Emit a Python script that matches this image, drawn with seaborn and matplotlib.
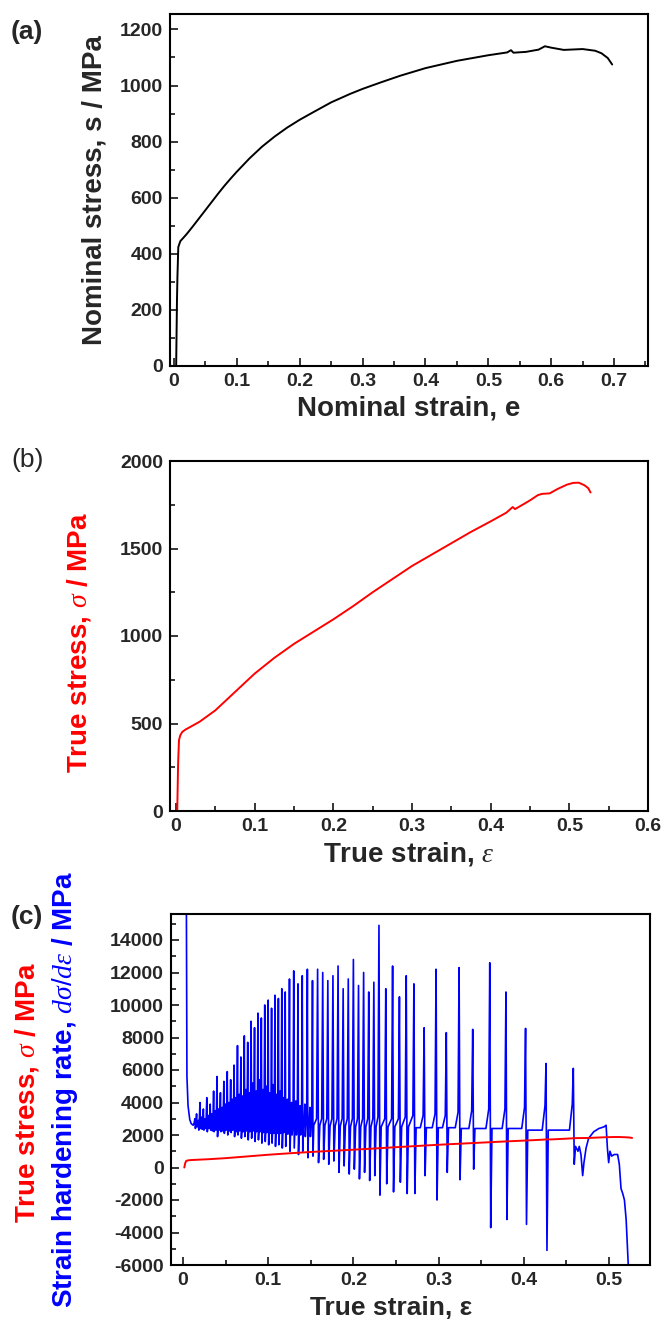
import numpy as np
import pandas as pd
import matplotlib
matplotlib.use("Agg")
import matplotlib.pyplot as plt
import seaborn as sns
from matplotlib.ticker import MultipleLocator, FuncFormatter

# ---------------- data ----------------
# (a) nominal stress-strain
nominal_strain = [0.0034, 0.0047, 0.0054, 0.0068, 0.010, 0.020, 0.030, 0.040, 0.050, 0.060,
                  0.070, 0.080, 0.090, 0.100, 0.120, 0.140, 0.160, 0.180, 0.200, 0.220,
                  0.250, 0.280, 0.300, 0.330, 0.360, 0.400, 0.450, 0.500, 0.530, 0.536,
                  0.540, 0.560, 0.580, 0.590, 0.600, 0.620, 0.650, 0.670, 0.680, 0.690,
                  0.697]
nominal_stress = [0, 234, 317, 424, 445, 470, 498, 527, 556, 585,
                  614, 642, 668, 693, 740, 782, 818, 850, 878, 903,
                  940, 970, 988, 1012, 1035, 1062, 1088, 1108, 1118, 1126,
                  1117, 1120, 1128, 1140, 1135, 1127, 1130, 1124, 1115, 1098,
                  1075]

# (b)/(c) true stress-strain
true_strain = [0.0016, 0.0027, 0.0038, 0.0054, 0.008, 0.012, 0.020, 0.030, 0.050, 0.075,
               0.100, 0.125, 0.150, 0.175, 0.200, 0.225, 0.250, 0.275, 0.300, 0.325,
               0.350, 0.375, 0.400, 0.420, 0.428, 0.431, 0.450, 0.460, 0.465, 0.475,
               0.485, 0.497, 0.505, 0.512, 0.519, 0.524, 0.527]
true_stress = [0, 270, 404, 432, 452, 465, 485, 510, 575, 680,
               785, 875, 955, 1025, 1095, 1170, 1250, 1325, 1400, 1465,
               1530, 1595, 1655, 1705, 1737, 1725, 1775, 1805, 1812, 1815,
               1840, 1865, 1875, 1876, 1862, 1845, 1820]

# (c) strain hardening rate: initial drop, serration spikes, final segment
hr_head_strain = [0.0040, 0.0044, 0.0047, 0.0060, 0.0080, 0.0097, 0.0120]
hr_head_rate = [17000, 10000, 5600, 3800, 2950, 2700, 2600]

spike_strain = [0.014, 0.016, 0.018, 0.020, 0.022, 0.024, 0.026, 0.028, 0.030, 0.032,
                0.034, 0.036, 0.038, 0.040, 0.042, 0.044, 0.046, 0.048, 0.050, 0.052,
                0.054, 0.056, 0.058, 0.060, 0.062, 0.064, 0.066, 0.068, 0.070, 0.072,
                0.074, 0.076, 0.078, 0.080, 0.082, 0.084, 0.086, 0.088, 0.090, 0.092,
                0.094, 0.096, 0.098, 0.100, 0.102, 0.104, 0.106, 0.108, 0.110, 0.112,
                0.114, 0.116, 0.118, 0.120, 0.1225, 0.125, 0.1275, 0.130, 0.1325, 0.135,
                0.1375, 0.140, 0.143, 0.146, 0.149, 0.152,
                0.158, 0.164, 0.170, 0.176, 0.182, 0.188, 0.194, 0.200, 0.206, 0.212,
                0.218, 0.224, 0.230, 0.238, 0.246, 0.254, 0.262, 0.271, 0.283, 0.297,
                0.309, 0.324, 0.340, 0.360, 0.379, 0.402, 0.426, 0.458]
spike_peak = [3000, 3300, 2900, 4000, 3100, 3600, 3000, 4300, 3200, 3900,
              3300, 4700, 3500, 5600, 3600, 4600, 3700, 5300, 3900, 5900,
              4000, 5400, 4200, 6300, 4300, 7500, 4500, 6800, 4400, 8100,
              4800, 7700, 4600, 9000, 5200, 8600, 4700, 9500, 5400, 9200,
              4800, 10000, 5000, 10300, 4600, 9800, 5100, 10600, 4500, 10400,
              4700, 11000, 4300, 10800, 4200, 11600, 4000, 12100, 4100, 11300,
              3800, 11800, 3900, 12200, 3700, 11500,
              12200, 12000, 11500, 11800, 12400, 11000, 11600, 12800, 11200, 12000,
              10800, 11400, 14900, 11000, 12400, 10500, 11800, 11300, 8600, 12200,
              8300, 12300, 8500, 12600, 10800, 8560, 6400, 6100]
spike_trough = [2400, 2500, 2300, 2400, 2350, 2300, 2400, 2200, 2400, 2300,
                2250, 2200, 2300, 1900, 2300, 2200, 2250, 2100, 2300, 2000,
                2250, 2150, 2300, 1900, 2200, 2000, 2250, 1800, 2200, 1900,
                2250, 1700, 2200, 1800, 2250, 1600, 2200, 1700, 2200, 1500,
                2150, 1600, 2150, 1400, 2100, 1500, 2100, 1300, 2100, 1400,
                2100, 1200, 2150, 1300, 2050, 1000, 2000, 1200, 2000, 800,
                2000, 1000, 1900, 600, 1900, 700,
                300, 500, 200, 400, -300, 100, -400, -100, -700, -300,
                -800, -500, -1700, -1000, -1500, -900, -1600, -1600, -500, -2000,
                -300, -750, -100, -3700, -3200, -3500, -5100, 200]
# level reached right after the drop recovers
spike_base = [2700, 2700, 2650, 2700, 2700, 2650, 2700, 2700, 2650, 2700,
              2650, 2700, 2650, 2700, 2650, 2700, 2650, 2700, 2650, 2700,
              2650, 2700, 2650, 2700, 2650, 2700, 2650, 2700, 2650, 2700,
              2650, 2700, 2650, 2700, 2650, 2700, 2650, 2700, 2650, 2700,
              2650, 2700, 2650, 2700, 2650, 2700, 2650, 2700, 2650, 2700,
              2650, 2700, 2650, 2700, 2650, 2650, 2650, 2650, 2650, 2650,
              2650, 2650, 2600, 2600, 2600, 2600,
              2600, 2600, 2550, 2550, 2550, 2550, 2500, 2500, 2500, 2500,
              2500, 2500, 2500, 2500, 2500, 2500, 2500, 2450, 2450, 2450,
              2450, 2400, 2400, 2400, 2400, 2300, 2300, 1300]
# level just before the sharp rise
spike_pre = [2750, 2750, 2700, 2800, 2750, 2800, 2750, 2900, 2750, 2850,
             2800, 2900, 2800, 3000, 2800, 2900, 2800, 3000, 2850, 3000,
             2800, 3000, 2850, 3000, 2800, 3100, 2850, 3000, 2800, 3100,
             2850, 3000, 2800, 3100, 2850, 3000, 2800, 3100, 2850, 3000,
             2800, 3100, 2850, 3100, 2800, 3000, 2850, 3100, 2800, 3000,
             2800, 3100, 2800, 3000, 2800, 3000, 2800, 3000, 2800, 3000,
             2800, 3000, 2800, 3000, 2800, 3000,
             3000, 3000, 3000, 3000, 3000, 3000, 3000, 3000, 3000, 3000,
             3000, 3000, 3100, 3000, 3000, 3000, 3100, 3200, 3200, 3300,
             3200, 3400, 3500, 3600, 3600, 3700, 3800, 3900]

hr_tail_strain = [0.4635, 0.4650, 0.4670, 0.4690, 0.4705, 0.4730, 0.4760, 0.4820, 0.4880,
                  0.4940, 0.4965, 0.4980, 0.4995, 0.5010, 0.5030, 0.5060, 0.5100, 0.5120,
                  0.5140, 0.5160, 0.5180, 0.5200, 0.5225, 0.5240]
hr_tail_rate = [1000, 1300, 800, -500, 300, 1200, 1800, 2200, 2400,
                2500, 2600, 1200, 300, 1000, 700, 800, 800, 200,
                -1300, -1600, -2000, -3200, -6000, -7000]

# build the hardening-rate polyline from the read-off values
hr_x = list(hr_head_strain)
hr_y = list(hr_head_rate)
prev_end = hr_x[-1]
prev_base = hr_y[-1]
for i, (xs, pk, tr, bs, pr) in enumerate(zip(spike_strain, spike_peak, spike_trough,
                                              spike_base, spike_pre)):
    wide = (i > 0 and xs - spike_strain[i - 1] > 0.0045)
    w1, w2, w3 = (0.0012, 0.0011, 0.0026) if wide else (0.0008, 0.0006, 0.0015)
    if xs - 0.0045 > prev_end + 0.002:
        # flat stretch before the ramp toward the next serration
        hr_x += [xs - 0.0045]
        hr_y += [prev_base]
    hr_x += [xs - w1, xs, xs + w2, xs + w3]
    hr_y += [pr, pk, tr, bs]
    prev_end = xs + w3
    prev_base = bs
hr_x += hr_tail_strain
hr_y += hr_tail_rate

df_a = pd.DataFrame({"strain": nominal_strain, "stress": nominal_stress})
df_b = pd.DataFrame({"strain": true_strain, "stress": true_stress})
df_hr = pd.DataFrame({"strain": hr_x, "rate": hr_y})

# ---------------- style ----------------
sns.set_theme(style="ticks")
plt.rcParams['font.family'] = ['Liberation Sans', 'DejaVu Sans']
plt.rcParams['mathtext.fontset'] = 'custom'
plt.rcParams['mathtext.it'] = 'Liberation Serif:italic'
plt.rcParams['mathtext.rm'] = 'Liberation Sans'
plt.rcParams['axes.linewidth'] = 1.5
plt.rcParams['axes.unicode_minus'] = False

TICKSIZE = 14
LABELSIZE = 20
RED = '#ff0000'
BLUE = '#0000ff'
W, H = 664.0, 1322.0

fig = plt.figure(figsize=(6.64, 13.22), dpi=100)

def box(l, r, t, b):
    return [l / W, 1 - b / H, (r - l) / W, (b - t) / H]

ax_a = fig.add_axes(box(170, 648, 14, 366))
ax_b = fig.add_axes(box(170, 648, 461, 811))
ax_c = fig.add_axes(box(171, 650, 914, 1265))

def xfmt(v, pos):
    if abs(v) < 1e-9:
        return "0"
    return f"{v:g}"

def style(ax):
    for s in ax.spines.values():
        s.set_visible(True)
        s.set_linewidth(1.5)
        s.set_color('black')
    ax.tick_params(which='both', direction='in', top=False, right=False, width=1.3)
    ax.tick_params(which='major', length=6, pad=5)
    ax.tick_params(which='minor', length=3.5)
    ax.xaxis.set_minor_locator(MultipleLocator(0.05))
    ax.xaxis.set_major_locator(MultipleLocator(0.1))
    ax.xaxis.set_major_formatter(FuncFormatter(xfmt))
    for lab in ax.get_xticklabels() + ax.get_yticklabels():
        lab.set_fontweight('bold')
        lab.set_fontsize(TICKSIZE)
    ax.grid(False)

# (a)
sns.lineplot(data=df_a, x="strain", y="stress", ax=ax_a, color='black', lw=1.4,
             sort=False, estimator=None)
ax_a.set_xlim(-0.0064, 0.754)
ax_a.set_ylim(0, 1255)
ax_a.yaxis.set_major_locator(MultipleLocator(200))
ax_a.yaxis.set_minor_locator(MultipleLocator(100))
style(ax_a)
ax_a.set_xlabel("Nominal strain, e", fontsize=LABELSIZE, fontweight='bold', labelpad=4)
ax_a.set_ylabel("")
fig.text(94 / W, 1 - 190 / H, "Nominal stress, s / MPa", rotation=90, fontsize=LABELSIZE,
         fontweight='bold', ha='center', va='center')
fig.text(11 / W, 1 - 32 / H, "(a)", fontsize=19, fontweight='bold', ha='left', va='center')

# (b)
sns.lineplot(data=df_b, x="strain", y="stress", ax=ax_b, color=RED, lw=1.4,
             sort=False, estimator=None)
ax_b.set_xlim(-0.0076, 0.6)
ax_b.set_ylim(0, 2000)
ax_b.yaxis.set_major_locator(MultipleLocator(500))
ax_b.yaxis.set_minor_locator(MultipleLocator(250))
style(ax_b)
ax_b.set_xlabel(r"True strain, $\varepsilon$", fontsize=LABELSIZE, fontweight='bold')
ax_b.set_ylabel("")
fig.text(79 / W, 1 - 642 / H, r"True stress, $\sigma$ / MPa", rotation=90, color=RED,
         fontsize=LABELSIZE, fontweight='bold', ha='center', va='center')
fig.text(11 / W, 1 - 460 / H, "(b)", fontsize=19, ha='left', va='center')

# (c)
sns.lineplot(data=df_hr, x="strain", y="rate", ax=ax_c, color=BLUE, lw=1.2,
             sort=False, estimator=None)
sns.lineplot(data=df_b, x="strain", y="stress", ax=ax_c, color=RED, lw=1.4,
             sort=False, estimator=None)
ax_c.set_xlim(-0.014, 0.548)
ax_c.set_ylim(-6000, 15600)
ax_c.yaxis.set_major_locator(MultipleLocator(2000))
ax_c.yaxis.set_minor_locator(MultipleLocator(1000))
style(ax_c)
ax_c.set_xlabel("")
ax_c.set_ylabel("")
fig.text(391 / W, 1 - 1308 / H, "True strain, ε", fontsize=19, fontweight='bold',
         ha='center', va='center')
fig.text(11 / W, 1 - 917 / H, "(c)", fontsize=19, fontweight='bold', ha='left', va='center')
fig.text(27 / W, 1 - 1223 / H, r"True stress, $\sigma$ / MPa", rotation=90, color=RED,
         fontsize=LABELSIZE, fontweight='bold', ha='center', va='bottom')
fig.text(65 / W, 1 - 1308 / H, r"Strain hardening rate, $d\sigma/d\varepsilon$ / MPa",
         rotation=90, color=BLUE, fontsize=LABELSIZE, fontweight='bold',
         ha='center', va='bottom')

fig.savefig("out.png", dpi=100)
